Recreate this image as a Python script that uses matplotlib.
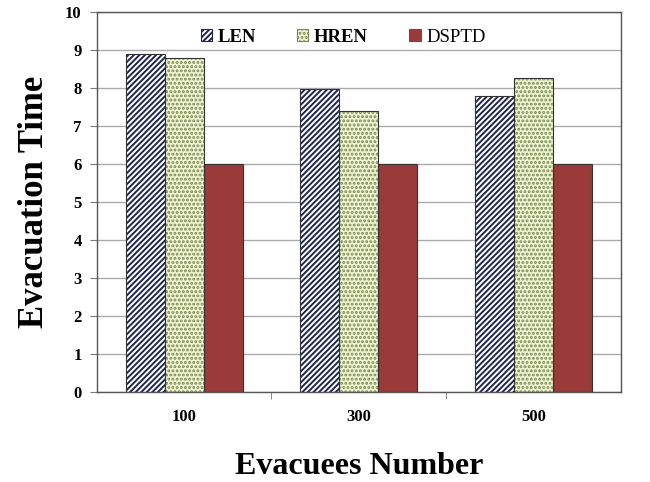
import matplotlib.pyplot as plt
import numpy as np
from matplotlib.patches import Patch

# evacuation time per algorithm, grouped by number of evacuees
groups = ['100', '300', '500']
len_times = [8.9, 7.97, 7.78]
hren_times = [8.8, 7.4, 8.27]
dsptd_times = [6.0, 6.0, 6.0]

plt.rcParams['font.family'] = ['Liberation Serif', 'DejaVu Serif']
plt.rcParams['hatch.linewidth'] = 1.4

fig = plt.figure(figsize=(6.5, 4.82), dpi=100)
ax = fig.add_axes([0.149, 0.187, 0.806, 0.788])

x = np.arange(len(groups))
w = 0.223

series = [
    ('LEN', len_times, 'white', '#1f2550', '//////'),
    ('HREN', hren_times, '#eef3cf', '#7a8a55', '....'),
    ('DSPTD', dsptd_times, '#9a3b3a', '#9a3b3a', None),
]

handles = []
for i, (name, vals, face, hcol, hatch) in enumerate(series):
    pos = x + (i - 1) * w
    # fill + hatch first, then a thin black outline on top
    ax.bar(pos, vals, w, color=face, edgecolor=hcol, hatch=hatch,
           linewidth=0, zorder=2)
    ax.bar(pos, vals, w, fill=False, edgecolor='#333333', linewidth=0.8,
           zorder=3)
    handles.append(Patch(facecolor=face, edgecolor=hcol, hatch=hatch,
                         linewidth=0.8, label=name))

ax.set_ylim(0, 10)
ax.set_yticks(range(0, 11))
ax.set_xlim(-0.5, 2.5)
ax.set_xticks(x)
ax.set_xticklabels(groups)
ax.set_xticks([0.5, 1.5], minor=True)
ax.tick_params(axis='x', which='major', length=0, pad=12)
ax.tick_params(axis='x', which='minor', length=5, color='#777777')
ax.tick_params(axis='y', length=5, color='#777777', pad=6)
for lab in ax.get_xticklabels() + ax.get_yticklabels():
    lab.set_fontweight('bold')
    lab.set_fontsize(12)

ax.grid(True, axis='y', color='#aaaaaa', linewidth=1.0, zorder=0)
ax.set_axisbelow(True)
for s in ax.spines.values():
    s.set_color('#555555')
    s.set_linewidth(1.0)

ax.set_ylabel('Evacuation Time', fontsize=25, fontweight='bold', labelpad=10)
ax.set_xlabel('Evacuees Number', fontsize=23, fontweight='bold', labelpad=20)

leg = ax.legend(handles=handles, loc='upper center', ncol=3, frameon=False,
                bbox_to_anchor=(0.47, 1.0), handlelength=0.6, handleheight=0.6,
                columnspacing=2.2, handletextpad=0.3, prop={'size': 13.5})
for t in leg.get_texts()[:2]:
    t.set_fontweight('bold')

fig.savefig('out.png', dpi=100)
